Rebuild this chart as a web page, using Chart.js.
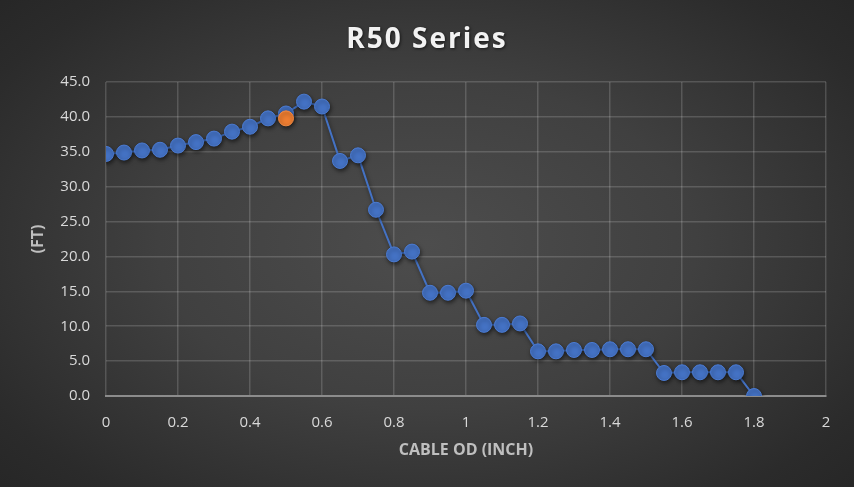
<!DOCTYPE html>
<html>
<head>
<meta charset="utf-8">
<script src="https://cdn.jsdelivr.net/npm/chart.js@4/dist/chart.umd.min.js"></script>
<style>
  html, body { margin: 0; padding: 0; }
  body {
    width: 854px; height: 487px; overflow: hidden;
    background: radial-gradient(ellipse 70% 75% at 50% 50%, #4d4d4d 0%, #404040 45%, #2b2b2b 85%, #262626 100%);
  }
  #wrap { position: relative; width: 854px; height: 487px; }
</style>
</head>
<body>
<div id="wrap"><canvas id="c" width="854" height="487"></canvas></div>
<script>
// ---- data ----
const chartTitle = "R50 Series";
const xAxisTitle = "CABLE OD (INCH)";
const yAxisTitle = "(FT)";
const cableOD = [0, 0.05, 0.1, 0.15, 0.2, 0.25, 0.3, 0.35, 0.4, 0.45, 0.5, 0.55, 0.6, 0.65, 0.7, 0.75, 0.8, 0.85, 0.9, 0.95, 1.0, 1.05, 1.1, 1.15, 1.2, 1.25, 1.3, 1.35, 1.4, 1.45, 1.5, 1.55, 1.6, 1.65, 1.7, 1.75, 1.8];
const lengthFt = [34.7, 34.9, 35.2, 35.3, 35.9, 36.4, 36.9, 37.9, 38.6, 39.8, 40.5, 42.2, 41.5, 33.7, 34.5, 26.7, 20.3, 20.7, 14.8, 14.8, 15.1, 10.2, 10.2, 10.4, 6.4, 6.4, 6.6, 6.6, 6.7, 6.7, 6.7, 3.3, 3.4, 3.4, 3.4, 3.4, 0.0];
const highlightOD = [0.5];
const highlightFt = [39.8];
const xTicks = [0, 0.2, 0.4, 0.6, 0.8, 1, 1.2, 1.4, 1.6, 1.8, 2];
const yTicks = [0, 5, 10, 15, 20, 25, 30, 35, 40, 45];

const mainPts = cableOD.map((x, i) => ({ x: x, y: lengthFt[i] }));
const hiPts = highlightOD.map((x, i) => ({ x: x, y: highlightFt[i] }));

const shadowPlugin = {
  id: 'shadow',
  beforeDraw(chart) {
    const tb = chart.titleBlock;
    if (tb && !tb._wrapped) {
      const orig = tb.draw.bind(tb);
      tb.draw = function (area) {
        const ctx = chart.ctx;
        ctx.save();
        ctx.letterSpacing = '2px';
        ctx.shadowColor = 'rgba(0,0,0,0.6)';
        ctx.shadowBlur = 3;
        ctx.shadowOffsetX = 1;
        ctx.shadowOffsetY = 1;
        orig(area);
        ctx.restore();
      };
      tb._wrapped = true;
    }
  },
  beforeDatasetDraw(chart) {
    const ctx = chart.ctx;
    ctx.save();
    ctx.shadowColor = 'rgba(0,0,0,0.55)';
    ctx.shadowBlur = 4;
    ctx.shadowOffsetX = 1;
    ctx.shadowOffsetY = 2;
  },
  afterDatasetDraw(chart) {
    chart.ctx.restore();
  }
};

const titleFont = { family: "'Open Sans', sans-serif", size: 28, weight: 'bold' };

new Chart(document.getElementById('c'), {
  type: 'scatter',
  data: {
    datasets: [
      {
        data: mainPts,
        showLine: true,
        borderColor: '#4472C4',
        borderWidth: 2,
        pointRadius: 7.5,
        pointHoverRadius: 7.5,
        pointBackgroundColor: '#4472C4',
        pointBorderColor: '#4b7bd2',
        pointBorderWidth: 1,
        order: 2
      },
      {
        data: hiPts,
        showLine: false,
        pointRadius: 7.5,
        pointHoverRadius: 7.5,
        pointBackgroundColor: '#ED7D31',
        pointBorderColor: '#F08A44',
        pointBorderWidth: 1,
        order: 1
      }
    ]
  },
  options: {
    responsive: false,
    animation: false,
    events: [],
    layout: { padding: { left: 28, right: 28, top: 0, bottom: 0 } },
    plugins: {
      legend: { display: false },
      tooltip: { enabled: false },
      title: {
        display: true,
        text: chartTitle,
        color: '#f2f2f2',
        font: titleFont,
        padding: { top: 23, bottom: 25.5 }
      }
    },
    scales: {
      x: {
        type: 'linear',
        min: 0, max: 2,
        afterBuildTicks(scale) { scale.ticks = xTicks.map(v => ({ value: v })); },
        afterFit(scale) { scale.height = 91; },
        grid: { color: 'rgba(255,255,255,0.16)', lineWidth: 1.5, drawTicks: false },
        border: { display: true, color: '#8c8c8c', width: 2 },
        ticks: {
          color: '#d9d9d9',
          font: { family: "'Open Sans', sans-serif", size: 15 },
          padding: 18,
          callback: v => String(v)
        },
        title: {
          display: true,
          text: xAxisTitle,
          color: '#bfbfbf',
          font: { family: "'Open Sans', sans-serif", size: 16, weight: 'bold' },
          padding: { top: 0, bottom: 27 }
        }
      },
      y: {
        type: 'linear',
        min: 0, max: 45,
        afterBuildTicks(scale) { scale.ticks = yTicks.map(v => ({ value: v })); },
        afterFit(scale) { scale.width = 78; },
        grid: { color: 'rgba(255,255,255,0.16)', lineWidth: 1.5, drawTicks: false },
        border: { display: false },
        ticks: {
          color: '#d9d9d9',
          font: { family: "'Open Sans', sans-serif", size: 15 },
          padding: 16,
          callback: v => Number(v).toFixed(1)
        },
        title: {
          display: true,
          text: yAxisTitle,
          color: '#bfbfbf',
          font: { family: "'Open Sans', sans-serif", size: 16, weight: 'bold' },
          padding: { top: 0.5, bottom: 0 }
        }
      }
    }
  },
  plugins: [shadowPlugin]
});
</script>
</body>
</html>
